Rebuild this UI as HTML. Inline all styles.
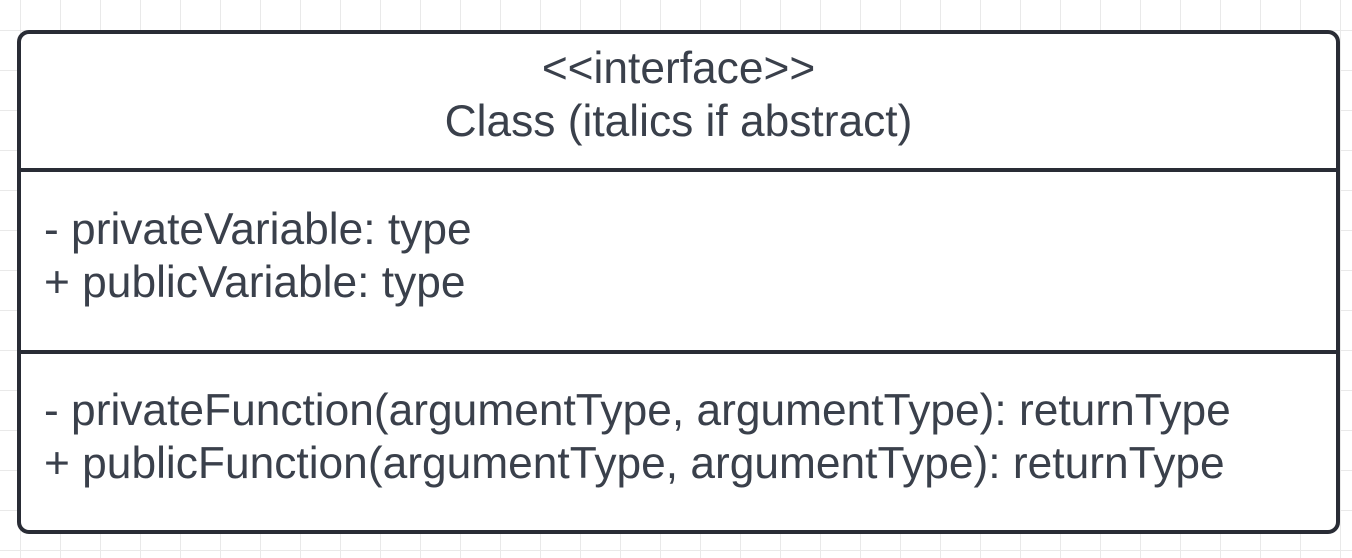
<!DOCTYPE html>
<html><head><style>
html,body{margin:0;padding:0;}
body{width:1352px;height:558px;position:relative;overflow:hidden;background:#fff;
background-image:linear-gradient(#e9e9e9 1px,transparent 1px),linear-gradient(90deg,#e9e9e9 1px,transparent 1px);
background-size:40px 40px;background-position:20px 30px;}
.box{position:absolute;left:17px;top:30px;width:1315px;height:496px;border:4px solid #292c35;border-radius:12px;background:#fff;}
.div{position:absolute;left:0;right:0;height:4px;background:#292c35;}
.t{position:absolute;font-family:"Liberation Sans",Arial,sans-serif;font-size:44.3px;color:#3a404b;white-space:nowrap;line-height:53px;}
</style></head><body>
<div class="box">
 <div class="div" style="top:134px"></div>
 <div class="div" style="top:316px"></div>
 <div class="t" style="left:0;right:0;top:8px;text-align:center">&lt;&lt;interface&gt;&gt;<br>Class (italics if abstract)</div>
 <div class="t" style="left:23px;top:169px">- privateVariable: type<br>+ publicVariable: type</div>
 <div class="t" style="left:23px;top:350px">- privateFunction(argumentType, argumentType): returnType<br>+ publicFunction(argumentType, argumentType): returnType</div>
</div>
</body></html>
